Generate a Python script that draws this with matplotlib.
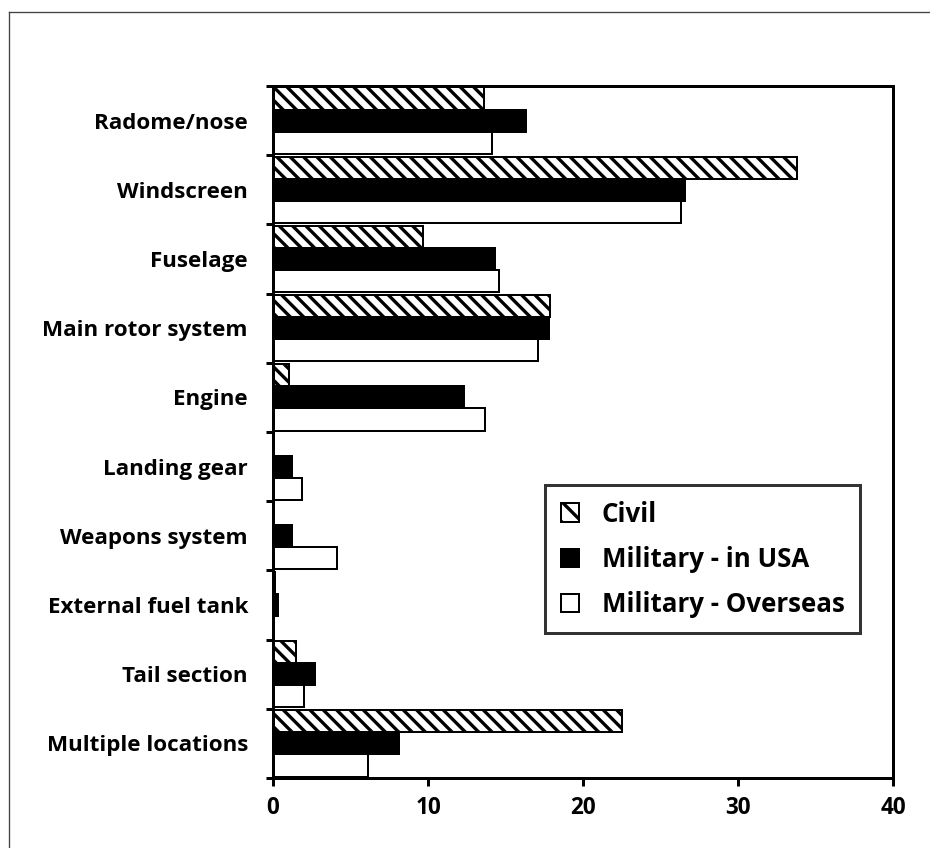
import numpy as np
import matplotlib.pyplot as plt
from matplotlib.patches import Patch
from matplotlib.lines import Line2D

# --- Data (percent of strikes by location) ---
categories = [
    "Radome/nose", "Windscreen", "Fuselage", "Main rotor system", "Engine",
    "Landing gear", "Weapons system", "External fuel tank", "Tail section",
    "Multiple locations",
]
civil = [13.6, 33.8, 9.7, 17.9, 1.0, 0.0, 0.0, 0.1, 1.5, 22.5]
military_usa = [16.3, 26.6, 14.3, 17.8, 12.3, 1.2, 1.2, 0.3, 2.7, 8.1]
military_overseas = [14.1, 26.3, 14.6, 17.1, 13.7, 1.9, 4.1, 0.0, 2.0, 6.1]
series_names = ["Civil", "Military - in USA", "Military - Overseas"]
x_ticks = [0, 10, 20, 30, 40]

DPI = 120
HATCH = "\\\\\\"
plt.rcParams["font.family"] = ["Open Sans", "DejaVu Sans"]
plt.rcParams["font.weight"] = "bold"
plt.rcParams["hatch.linewidth"] = 2.0

fig = plt.figure(figsize=(930 / DPI, 848 / DPI), dpi=DPI)
ax = fig.add_axes([273 / 930, 1 - 778 / 848, (893 - 273) / 930, (778 - 86) / 848])

y = np.arange(len(categories))
h = 0.32
edge = dict(edgecolor="black", linewidth=1.2)
ax.barh(y - h, civil, height=h, color="white", hatch=HATCH, **edge)
ax.barh(y, military_usa, height=h, color="black", **edge)
ax.barh(y + h, military_overseas, height=h, color="white", **edge)

ax.set_xlim(0, 40)
ax.set_ylim(len(categories) - 0.5, -0.5)
ax.set_xticks(x_ticks)
ax.set_xticklabels([str(t) for t in x_ticks], fontsize=13.5, fontweight="bold")

# boundary ticks (major) without labels, labels on minor ticks at centres
ax.set_yticks(np.arange(-0.5, len(categories), 1.0))
ax.set_yticklabels([])
ax.set_yticks(y, minor=True)
ax.set_yticklabels(categories, minor=True, fontsize=13.4, fontweight="bold")
ax.tick_params(axis="y", which="minor", length=0, pad=15)
ax.tick_params(axis="y", which="major", length=4.5, width=1.8, direction="out")
ax.tick_params(axis="x", length=4.5, width=1.8, direction="out", pad=6)

for s in ax.spines.values():
    s.set_linewidth(1.8)

handles = [
    Patch(facecolor="white", edgecolor="black", hatch="\\\\", linewidth=1.2),
    Patch(facecolor="black", edgecolor="black", linewidth=1.2),
    Patch(facecolor="white", edgecolor="black", linewidth=1.2),
]
leg = ax.legend(handles, series_names, loc="upper left",
                bbox_to_anchor=((545 - 273) / 620, (778 - 485) / 692),
                fontsize=15.5, frameon=True, fancybox=False,
                handlelength=0.7, handleheight=0.7, handletextpad=0.9,
                labelspacing=0.7, borderpad=0.6, borderaxespad=0)
leg.get_frame().set_edgecolor("black")
leg.get_frame().set_linewidth(1.8)

# outer frame (top and left edges visible)
fig.add_artist(Line2D([9 / 930, 1], [1 - 12 / 848] * 2, color="#444444", linewidth=0.8))
fig.add_artist(Line2D([9 / 930] * 2, [0, 1 - 12 / 848], color="#444444", linewidth=0.8))

fig.savefig("out.png", dpi=DPI)
